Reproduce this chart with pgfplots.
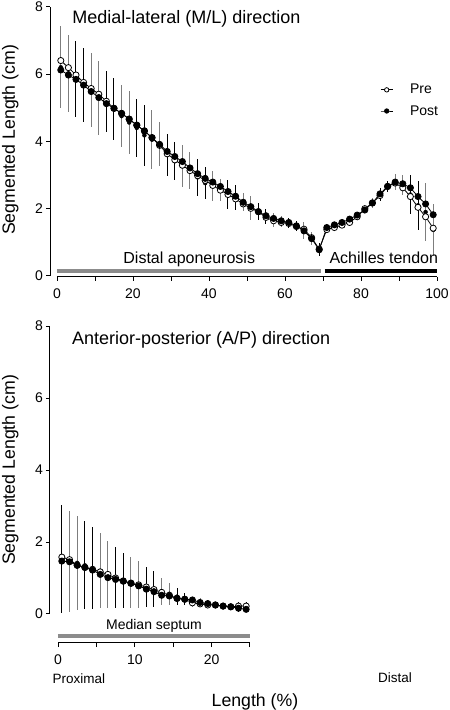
\documentclass[border=0pt]{standalone}
\usepackage{fontspec}
\setmainfont{Liberation Sans}
\usepackage{pgfplots}
\pgfplotsset{compat=1.18}
\usepackage{pgfplotstable}

\definecolor{ebgray}{RGB}{125,125,125}
\definecolor{bargray}{RGB}{140,140,140}

% Medial-lateral: Pre / Post means
\pgfplotstableread{
x pre post
1 6.40 6.12
3 6.19 5.97
5 5.97 5.84
7 5.75 5.67
9 5.57 5.48
11 5.40 5.30
13 5.19 5.12
15 4.98 4.98
17 4.83 4.83
19 4.66 4.66
21 4.48 4.48
23 4.31 4.31
25 4.11 4.11
27 3.88 3.91
29 3.63 3.70
31 3.45 3.55
33 3.29 3.40
35 3.13 3.21
37 2.98 3.04
39 2.84 2.90
41 2.69 2.79
43 2.55 2.66
45 2.42 2.51
47 2.29 2.37
49 2.14 2.19
51 2.01 2.06
53 1.91 1.91
55 1.74 1.79
57 1.64 1.71
59 1.59 1.64
61 1.56 1.59
63 1.47 1.49
65 1.39 1.34
67 1.14 1.11
69 0.80 0.78
71 1.38 1.44
73 1.44 1.52
75 1.51 1.59
77 1.59 1.69
79 1.76 1.81
81 2.00 1.96
83 2.17 2.17
85 2.39 2.44
87 2.66 2.66
89 2.76 2.79
91 2.62 2.74
93 2.36 2.62
95 2.04 2.36
97 1.76 2.14
99 1.42 1.82
}\mltable

% M/L error bars (gray)
\pgfplotstableread{
x c e
1 6.20 1.22
3 6.02 1.14
9 5.52 1.10
11 5.30 1.10
17 4.75 0.92
19 4.56 0.93
25 4.05 0.87
27 3.93 0.65
33 3.26 0.62
35 3.13 0.55
41 2.68 0.45
43 2.55 0.33
49 2.20 0.27
51 2.02 0.37
57 1.67 0.20
59 1.62 0.15
65 1.36 0.25
67 1.12 0.20
73 1.48 0.10
75 1.55 0.10
81 1.98 0.12
83 2.17 0.15
89 2.79 0.25
91 2.70 0.30
97 1.90 0.87
99 1.37 0.77
}\mlerrgray

% M/L error bars (black)
\pgfplotstableread{
x c e
5 5.85 1.12
7 5.68 1.10
13 5.19 0.91
15 4.95 0.92
21 4.40 0.87
23 4.18 0.90
29 3.60 0.62
31 3.41 0.57
37 2.93 0.55
39 2.76 0.47
45 2.42 0.42
47 2.32 0.37
53 1.91 0.25
55 1.77 0.22
61 1.57 0.15
63 1.48 0.15
69 0.78 0.20
71 1.40 0.10
77 1.64 0.10
79 1.78 0.12
85 2.42 0.20
87 2.66 0.17
93 2.42 0.58
95 2.10 0.72
}\mlerrblack

% Anterior-posterior: Pre / Post means
\pgfplotstableread{
x pre post
0.5 1.58 1.47
1.5 1.51 1.45
2.5 1.36 1.35
3.5 1.30 1.29
4.5 1.24 1.22
5.5 1.17 1.10
6.5 1.10 1.01
7.5 1.00 0.96
8.5 0.92 0.91
9.5 0.86 0.85
10.5 0.81 0.78
11.5 0.75 0.69
12.5 0.68 0.62
13.5 0.60 0.52
14.5 0.52 0.50
15.5 0.44 0.43
16.5 0.41 0.41
17.5 0.31 0.39
18.5 0.28 0.32
19.5 0.25 0.29
20.5 0.25 0.25
21.5 0.22 0.22
22.5 0.20 0.20
23.5 0.22 0.16
24.5 0.22 0.13
}\aptable

\pgfplotstableread{
x c e
1.5 1.46 1.40
2.5 1.42 1.30
5.5 1.20 1.04
6.5 1.10 0.94
9.5 0.87 0.70
10.5 0.83 0.65
13.5 0.63 0.38
14.5 0.56 0.31
17.5 0.34 0.14
18.5 0.32 0.12
21.5 0.22 0.08
22.5 0.20 0.10
}\aperrgray

\pgfplotstableread{
x c e
0.5 1.52 1.50
3.5 1.35 1.22
4.5 1.27 1.14
7.5 1.01 0.85
8.5 0.93 0.76
11.5 0.75 0.55
12.5 0.70 0.50
15.5 0.48 0.23
16.5 0.42 0.17
19.5 0.29 0.08
20.5 0.25 0.06
23.5 0.20 0.14
24.5 0.20 0.14
}\aperrblack

\newcommand{\ticksize}{\fontsize{14}{16}\selectfont}

\pgfplotsset{
  myaxis/.style={
    scale only axis, clip=false,
    tick align=outside, major tick length=4pt, minor tick length=4pt,
    axis line style={line width=1pt},
    every tick/.style={line width=1pt, black},
    /pgf/number format/assume math mode=true,
    ticklabel style={font=\ticksize},
  },
  ebar/.style={forget plot, only marks, mark=none,
    error bars/.cd, y dir=both, y explicit, error mark=none,
    error bar style={#1, line width=1pt}},
  preline/.style={black, line width=0.8pt, mark=*, mark size=3.1pt,
    mark options={fill=white, draw=black, line width=0.8pt, solid}},
  postline/.style={black, line width=0.8pt, mark=*, mark size=3.1pt,
    mark options={fill=black, draw=black, solid}},
}

\begin{document}
\begin{tikzpicture}
\useasboundingbox (0pt,0pt) rectangle (450pt,710pt);

% ---------------- top panel: data + y axis
\begin{axis}[myaxis,
  at={(50pt,434pt)}, anchor=south west,
  width=387pt, height=269.3pt,
  xmin=-1.84, xmax=100, ymin=0, ymax=8,
  hide x axis, axis y line*=left,
  ytick={0,2,4,6,8},
  yticklabel style={anchor=east, inner sep=0pt, xshift=-3pt},
  legend style={draw=none, fill=none, at={(axis description cs:0.853,0.72)},
    anchor=north west, font=\ticksize, inner sep=0pt, row sep=6pt,
    column sep=15pt, cells={anchor=west}},
  legend image code/.code={\draw[mark repeat=2,mark phase=2,#1,mark size=2.2pt]
    plot coordinates {(0pt,0pt) (6pt,0pt) (12pt,0pt)};},
]
\addplot[forget plot, bargray, line width=4pt] coordinates {(0,0.15) (69.6,0.15)};
\addplot[forget plot, black, line width=4pt] coordinates {(70.4,0.15) (100,0.15)};
\addplot[ebar=ebgray] table[x=x, y=c, y error=e] {\mlerrgray};
\addplot[ebar=black] table[x=x, y=c, y error=e] {\mlerrblack};
\addplot[preline] table[x=x, y=pre] {\mltable};
\addlegendentry{Pre}
\addplot[postline] table[x=x, y=post] {\mltable};
\addlegendentry{Post}
\node[anchor=base west, font=\fontsize{18}{21}\selectfont] at (axis cs:3.1,7.51) {Medial-lateral (M/L) direction};
\node[anchor=base, font=\fontsize{16}{19}\selectfont] at (axis cs:34.8,0.377) {Distal aponeurosis};
\node[anchor=base, font=\fontsize{16}{19}\selectfont] at (axis cs:86,0.377) {Achilles tendon};
\end{axis}

% ---------------- top panel: x axis
\begin{axis}[myaxis,
  at={(57pt,433pt)}, anchor=south west,
  width=380pt, height=10pt,
  xmin=0, xmax=100, ymin=0, ymax=1,
  hide y axis, axis x line*=bottom,
  xtick={0,20,40,60,80,100},
  minor xtick={10,30,50,70,90},
  xticklabel style={anchor=north, inner sep=0pt, yshift=-8pt},
]
\end{axis}

% ---------------- bottom panel: data + y axis
\begin{axis}[myaxis,
  at={(50pt,96pt)}, anchor=south west,
  width=387pt, height=288pt,
  xmin=-1.04, xmax=49.35, ymin=0, ymax=8,
  hide x axis, axis y line*=left,
  ytick={0,2,4,6,8},
  yticklabel style={anchor=east, inner sep=0pt, xshift=-3pt},
]
\addplot[forget plot, bargray, line width=4pt] coordinates {(0,-0.61) (25,-0.61)};
\addplot[ebar=ebgray] table[x=x, y=c, y error=e] {\aperrgray};
\addplot[ebar=black] table[x=x, y=c, y error=e] {\aperrblack};
\addplot[preline] table[x=x, y=pre] {\aptable};
\addplot[postline] table[x=x, y=post] {\aptable};
\node[anchor=base west, font=\fontsize{18}{21}\selectfont] at (axis cs:1.39,7.49) {Anterior-posterior (A/P) direction};
\node[anchor=base, font=\fontsize{14}{17}\selectfont] at (axis cs:12.5,-0.444) {Median septum};
\end{axis}

% ---------------- bottom panel: x axis
\begin{axis}[myaxis,
  at={(58pt,67pt)}, anchor=south west,
  width=192pt, height=10pt,
  xmin=0, xmax=25, ymin=0, ymax=1,
  hide y axis, axis x line*=bottom,
  xtick={0,10,20},
  minor xtick={5,15,25},
  xticklabel style={anchor=north, inner sep=0pt, yshift=-7.5pt},
]
\end{axis}

% ---------------- labels
\node[rotate=90, anchor=base, font=\fontsize{17.7}{20}\selectfont] at (15pt,570pt) {Segmented Length (cm)};
\node[rotate=90, anchor=base, font=\fontsize{17.7}{20}\selectfont] at (15pt,240pt) {Segmented Length (cm)};
\node[anchor=base west, font=\fontsize{13.5}{16}\selectfont, inner sep=0pt] at (52.5pt,26.7pt) {Proximal};
\node[anchor=base west, font=\fontsize{13.5}{16}\selectfont, inner sep=0pt] at (378pt,27.3pt) {Distal};
\node[anchor=base, font=\fontsize{17.7}{20}\selectfont, inner sep=0pt] at (255pt,4pt) {Length (\%)};
\end{tikzpicture}
\end{document}
